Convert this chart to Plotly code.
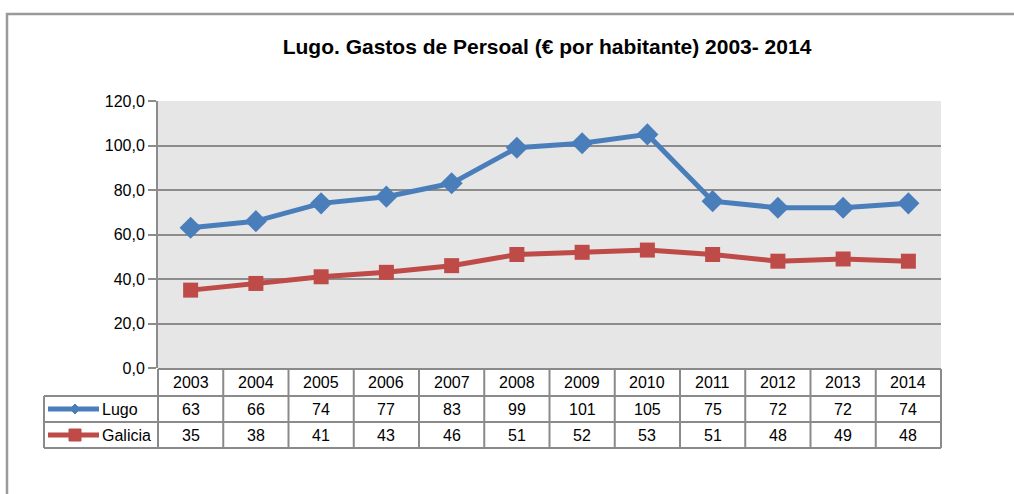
import plotly.graph_objects as go

years = ["2003", "2004", "2005", "2006", "2007", "2008",
         "2009", "2010", "2011", "2012", "2013", "2014"]
lugo = [63, 66, 74, 77, 83, 99, 101, 105, 75, 72, 72, 74]
galicia = [35, 38, 41, 43, 46, 51, 52, 53, 51, 48, 49, 48]
series_names = ["Lugo", "Galicia"]
y_ticks = [0, 20, 40, 60, 80, 100, 120]

W, H = 1014, 494
L, R, T, B = 158, 941, 101, 368   # plot area in pixels
BLUE = "#4a7ebb"
RED = "#be4b48"
GRID = "#8c8c8c"
FONT = "Liberation Sans, Arial, sans-serif"
TXT = 16


def px(x):
    return (x - L) / (R - L)


def py(y):
    return (B - y) / (B - T)


xs = list(range(len(years)))
fig = go.Figure()
fig.add_trace(go.Scatter(
    x=xs, y=lugo, name=series_names[0], mode="lines+markers",
    line=dict(color=BLUE, width=5),
    marker=dict(symbol="diamond", size=17, color=BLUE),
    showlegend=False))
fig.add_trace(go.Scatter(
    x=xs, y=galicia, name=series_names[1], mode="lines+markers",
    line=dict(color=RED, width=5),
    marker=dict(symbol="square", size=15, color=RED),
    showlegend=False))

shapes = []
annotations = []

# outer chart frame
shapes.append(dict(type="rect", xref="paper", yref="paper",
                   x0=px(7), x1=px(1030), y0=py(14), y1=py(510),
                   line=dict(color="#9a9a9a", width=2.5), layer="below"))

# data table grid
row_y = [369, 396, 422, 448]
col_x = [L + i * (R - L) / len(years) for i in range(len(years) + 1)]
legend_left = 44
line_style = dict(color="#8a8a8a", width=2)
# horizontal lines
shapes.append(dict(type="line", xref="paper", yref="paper",
                   x0=px(L), x1=px(R), y0=py(row_y[0]), y1=py(row_y[0]), line=line_style))
for yy in row_y[1:]:
    shapes.append(dict(type="line", xref="paper", yref="paper",
                       x0=px(legend_left), x1=px(R), y0=py(yy), y1=py(yy), line=line_style))
# vertical lines
for cx in col_x:
    shapes.append(dict(type="line", xref="paper", yref="paper",
                       x0=px(cx), x1=px(cx), y0=py(row_y[0]), y1=py(row_y[-1]), line=line_style))
shapes.append(dict(type="line", xref="paper", yref="paper",
                   x0=px(legend_left), x1=px(legend_left), y0=py(row_y[1]), y1=py(row_y[-1]),
                   line=line_style))

# table text
rows = [years, [str(v) for v in lugo], [str(v) for v in galicia]]
for r, vals in enumerate(rows):
    yc = (row_y[r] + row_y[r + 1]) / 2
    for i, v in enumerate(vals):
        annotations.append(dict(x=i, y=py(yc), xref="x", yref="paper", text=v,
                                showarrow=False, xanchor="center", yanchor="middle",
                                font=dict(family=FONT, size=TXT, color="#000")))

# legend keys inside the table
for r, (name, col, sym) in enumerate([(series_names[0], BLUE, "diamond"),
                                       (series_names[1], RED, "square")]):
    yc = (row_y[r + 1] + row_y[r + 2]) / 2
    shapes.append(dict(type="line", xref="paper", yref="paper",
                       x0=px(48), x1=px(99), y0=py(yc), y1=py(yc),
                       line=dict(color=col, width=5)))
    cxm = 75
    if sym == "diamond":
        d = 5
        path = (f"M {px(cxm - d)} {py(yc)} L {px(cxm)} {py(yc - d)} "
                f"L {px(cxm + d)} {py(yc)} L {px(cxm)} {py(yc + d)} Z")
        shapes.append(dict(type="path", xref="paper", yref="paper", path=path,
                           fillcolor=col, line=dict(color=col, width=1)))
    else:
        d = 6
        shapes.append(dict(type="rect", xref="paper", yref="paper",
                           x0=px(cxm - d), x1=px(cxm + d), y0=py(yc - d), y1=py(yc + d),
                           fillcolor=col, line=dict(color=col, width=1)))
    annotations.append(dict(x=px(100), y=py(yc), xref="paper", yref="paper", text=name,
                            showarrow=False, xanchor="left", yanchor="middle",
                            font=dict(family=FONT, size=TXT, color="#000")))

fig.update_layout(
    width=W, height=H,
    margin=dict(l=L, r=W - R, t=T, b=H - B, pad=0),
    paper_bgcolor="white",
    plot_bgcolor="#e6e6e6",
    separators=", ",
    title=dict(text="<b>Lugo. Gastos de Persoal (€ por habitante) 2003- 2014</b>",
               x=547 / W, xanchor="center", y=1 - 47 / H, yanchor="middle",
               font=dict(family=FONT, size=21, color="#000")),
    xaxis=dict(range=[-0.5, len(years) - 0.5], showticklabels=False, showgrid=False,
               zeroline=False, ticks="", fixedrange=True),
    yaxis=dict(range=[0, 120], tickvals=y_ticks, tickformat=".1f",
               showgrid=True, gridcolor=GRID, gridwidth=1.5,
               zeroline=False, showline=True, linecolor=GRID, linewidth=2,
               ticks="outside", ticklen=8, tickcolor=GRID, tickwidth=1.5,
               tickfont=dict(family=FONT, size=TXT, color="#000")),
    shapes=shapes,
    annotations=annotations,
)

fig.write_html("out.html")
